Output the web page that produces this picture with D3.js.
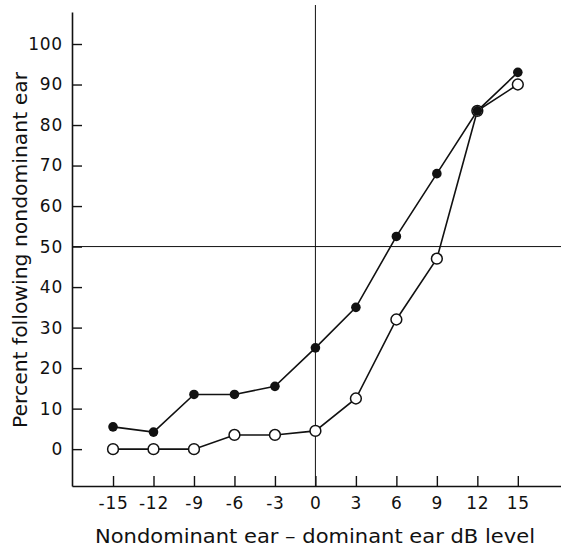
<!DOCTYPE html>
<html>
<head>
<meta charset="utf-8">
<script src="https://cdn.jsdelivr.net/npm/d3@7"></script>
<style>
  html, body { margin: 0; padding: 0; background: #fff; }
  svg { display: block; }
  text { font-family: "DejaVu Sans", sans-serif; fill: #111; }
</style>
</head>
<body>
<svg id="chart" width="561" height="548"></svg>
<script>
// dB difference (nondominant minus dominant ear)
const dbLevels = [-15, -12, -9, -6, -3, 0, 3, 6, 9, 12, 15];
// percent of responses following the nondominant ear
const filledSeries = [5.5, 4.2, 13.5, 13.5, 15.5, 25, 35, 52.5, 68, 83.5, 93];
const openSeries   = [0, 0, 0, 3.5, 3.5, 4.5, 12.5, 32, 47, 83.5, 90];
const yTicks = [0, 10, 20, 30, 40, 50, 60, 70, 80, 90, 100];
const xTitle = "Nondominant ear \u2013 dominant ear  dB level";
const yTitle = "Percent following nondominant ear";

const svg = d3.select("#chart");
const ink = "#111";

const x = d3.scaleLinear().domain([-18.04, 18.2]).range([72, 561]);
const y = d3.scaleLinear().domain([-9.1, 107.9]).range([486, 12]);

// reference lines at 0 dB and 50 %
svg.append("line")
  .attr("x1", x(0)).attr("x2", x(0))
  .attr("y1", 5).attr("y2", y.range()[0])
  .attr("stroke", ink).attr("stroke-width", 1);
svg.append("line")
  .attr("x1", x.range()[0]).attr("x2", x.range()[1])
  .attr("y1", y(50)).attr("y2", y(50))
  .attr("stroke", ink).attr("stroke-width", 1);

// axes with ticks pointing inward
const yAxis = svg.append("g")
  .attr("transform", `translate(${x.range()[0]},0)`)
  .call(d3.axisLeft(y).tickValues(yTicks).tickSize(-10).tickSizeOuter(0).tickPadding(9));
const xAxis = svg.append("g")
  .attr("transform", `translate(0,${y.range()[0]})`)
  .call(d3.axisBottom(x).tickValues(dbLevels).tickSize(-10).tickSizeOuter(0).tickPadding(11)
    .tickFormat(d => d < 0 ? "-" + Math.abs(d) : String(d)));

[yAxis, xAxis].forEach(g => {
  g.select(".domain").attr("stroke", ink).attr("stroke-width", 1.6);
  g.selectAll(".tick line").attr("stroke", ink).attr("stroke-width", 1.4);
  g.selectAll(".tick text").attr("font-size", 17).attr("fill", ink)
    .attr("letter-spacing", 0.8)
    .attr("font-family", "DejaVu Sans, sans-serif");
});

// axis titles
svg.append("text")
  .attr("x", 315).attr("y", 543)
  .attr("text-anchor", "middle")
  .attr("font-size", 20)
  .attr("textLength", 440).attr("lengthAdjust", "spacingAndGlyphs")
  .text(xTitle);
svg.append("text")
  .attr("transform", "translate(27,250) rotate(-90)")
  .attr("text-anchor", "middle")
  .attr("font-size", 20)
  .attr("textLength", 356).attr("lengthAdjust", "spacingAndGlyphs")
  .text(yTitle);

const line = d3.line().x((d, i) => x(dbLevels[i])).y(d => y(d));

svg.append("path").datum(filledSeries)
  .attr("d", line).attr("fill", "none").attr("stroke", ink).attr("stroke-width", 1.6);
svg.append("path").datum(openSeries)
  .attr("d", line).attr("fill", "none").attr("stroke", ink).attr("stroke-width", 1.6);

svg.append("g").selectAll("circle").data(openSeries).join("circle")
  .attr("cx", (d, i) => x(dbLevels[i])).attr("cy", d => y(d))
  .attr("r", 5.4).attr("fill", "#fff").attr("stroke", ink).attr("stroke-width", 1.5);
svg.append("g").selectAll("circle").data(filledSeries).join("circle")
  .attr("cx", (d, i) => x(dbLevels[i])).attr("cy", d => y(d))
  .attr("r", 4.8).attr("fill", ink);
</script>
</body>
</html>
